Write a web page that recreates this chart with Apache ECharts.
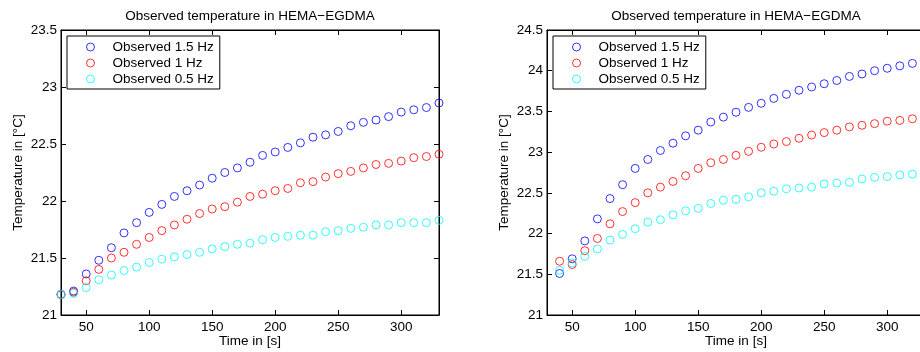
<!DOCTYPE html>
<html><head><meta charset="utf-8">
<script src="https://cdn.jsdelivr.net/npm/echarts@6/dist/echarts.min.js"></script>
<style>html,body{margin:0;padding:0;background:#fff}#c{width:920px;height:352px}</style>
</head><body><div id="c"></div>
<script>
var titleText = 'Observed temperature in HEMA\u2212EGDMA';
var xName = 'Time in [s]';
var yName = 'Temperature in [\u00B0C]';
var seriesNames = ['Observed 1.5 Hz', 'Observed 1 Hz', 'Observed 0.5 Hz'];
var xTicks = [50, 100, 150, 200, 250, 300];

var timeL = [30,40,50,60,70,80,90,100,110,120,130,140,150,160,170,180,190,200,210,220,230,240,250,260,270,280,290,300,310,320,330];
var blueL = [21.18,21.21,21.36,21.48,21.59,21.72,21.81,21.90,21.97,22.04,22.09,22.14,22.20,22.25,22.29,22.34,22.40,22.43,22.47,22.51,22.56,22.58,22.61,22.66,22.69,22.71,22.74,22.78,22.80,22.82,22.86];
var redL  = [21.18,21.20,21.30,21.40,21.50,21.55,21.62,21.68,21.74,21.79,21.84,21.89,21.93,21.95,21.99,22.04,22.06,22.09,22.11,22.16,22.17,22.21,22.24,22.26,22.29,22.32,22.33,22.35,22.38,22.39,22.41];
var cyanL = [21.18,21.19,21.24,21.31,21.35,21.39,21.42,21.46,21.49,21.51,21.53,21.55,21.58,21.60,21.62,21.63,21.66,21.68,21.69,21.70,21.70,21.73,21.74,21.76,21.77,21.79,21.79,21.81,21.81,21.81,21.83];

var timeR = [40,50,60,70,80,90,100,110,120,130,140,150,160,170,180,190,200,210,220,230,240,250,260,270,280,290,300,310,320];
var blueR = [21.51,21.69,21.91,22.18,22.43,22.60,22.80,22.91,23.02,23.11,23.20,23.27,23.37,23.43,23.49,23.55,23.60,23.66,23.71,23.76,23.80,23.84,23.88,23.93,23.96,24.00,24.03,24.06,24.09];
var redR  = [21.66,21.62,21.79,21.94,22.12,22.27,22.38,22.50,22.57,22.64,22.71,22.80,22.87,22.91,22.96,23.01,23.06,23.10,23.13,23.17,23.21,23.24,23.27,23.31,23.33,23.35,23.38,23.39,23.41];
var cyanR = [21.55,21.64,21.72,21.81,21.92,21.99,22.06,22.14,22.17,22.23,22.28,22.31,22.37,22.41,22.42,22.45,22.50,22.52,22.55,22.56,22.57,22.61,22.62,22.63,22.67,22.69,22.70,22.72,22.73];

var colors = ['#0000ff', '#ff0000', '#00ffff'];
var FONT = 'Liberation Sans, Arial, Helvetica, sans-serif';
var FS = 13.5;

function zip(xs, ys) { return xs.map(function (x, i) { return [x, ys[i]]; }); }

var grids = [
  {left: 61, top: 30, width: 378, height: 285},
  {left: 547, top: 30, width: 378, height: 285}
];
var yRanges = [[21, 23.5], [21, 24.5]];

var option = {
  animation: false,
  backgroundColor: '#fff',
  textStyle: {fontFamily: FONT},
  title: grids.map(function (g) {
    return {text: titleText, left: g.left + g.width / 2, top: 9, textAlign: 'center', padding: 0,
      textStyle: {fontFamily: FONT, fontSize: 13.5, fontWeight: 'normal', color: '#000'}};
  }),
  legend: grids.map(function (g, gi) {
    return {
      data: seriesNames.map(function (n) { return {name: n, icon: 'circle'}; }),
      orient: 'vertical', left: g.left + 6, top: 36,
      padding: [3, 6, 2, 19], itemGap: 0, itemWidth: 34, itemHeight: 8,
      borderColor: '#000', borderWidth: 1, backgroundColor: '#fff',
      itemStyle: {borderWidth: 1, color: 'rgba(0,0,0,0)'},
      textStyle: {fontFamily: FONT, fontSize: FS, color: '#000', lineHeight: 16, padding: [0,0,0,0]},
      selectedMode: false
    };
  }),
  grid: grids.map(function (g) {
    return {left: g.left, top: g.top, width: g.width, height: g.height, show: true,
      borderColor: '#000', borderWidth: 1, backgroundColor: 'transparent',
      outerBoundsMode: 'none', containLabel: false};
  }),
  xAxis: [],
  yAxis: [],
  series: []
};

grids.forEach(function (g, gi) {
  ['bottom', 'top'].forEach(function (pos) {
    option.xAxis.push({
      type: 'value', gridIndex: gi, position: pos, min: 30, max: 330,
      name: pos === 'bottom' ? xName : '', nameLocation: 'middle', nameGap: 19, nameMoveOverlap: false,
      nameTextStyle: {fontFamily: FONT, fontSize: FS, color: '#000', verticalAlign: 'top'},
      axisLine: {show: true, onZero: false, lineStyle: {color: '#000', width: 1}},
      axisTick: {show: true, inside: true, length: 5, customValues: xTicks, lineStyle: {color: '#000'}},
      axisLabel: {show: pos === 'bottom', customValues: xTicks, margin: 5, color: '#000', fontFamily: FONT, fontSize: FS},
      splitLine: {show: false}
    });
  });
  ['left', 'right'].forEach(function (pos) {
    option.yAxis.push({
      type: 'value', gridIndex: gi, position: pos, min: yRanges[gi][0], max: yRanges[gi][1], interval: 0.5,
      name: pos === 'left' ? yName : '', nameLocation: 'middle', nameGap: 36, nameRotate: 90, nameMoveOverlap: false,
      nameTextStyle: {fontFamily: FONT, fontSize: FS, color: '#000'},
      axisLine: {show: true, onZero: false, lineStyle: {color: '#000', width: 1}},
      axisTick: {show: true, inside: true, length: 5, lineStyle: {color: '#000'}},
      axisLabel: {show: pos === 'left', margin: 4, color: '#000', fontFamily: FONT, fontSize: FS,
        formatter: function (v) { return String(Math.round(v * 10) / 10); }},
      splitLine: {show: false}
    });
  });
});

var dataSets = [[zip(timeL, blueL), zip(timeL, redL), zip(timeL, cyanL)],
                [zip(timeR, blueR), zip(timeR, redR), zip(timeR, cyanR)]];
dataSets.forEach(function (sets, gi) {
  sets.forEach(function (d, si) {
    option.series.push({
      type: 'scatter', name: seriesNames[si], xAxisIndex: gi * 2, yAxisIndex: gi * 2,
      data: d, symbol: 'circle', symbolSize: 8,
      itemStyle: {color: 'rgba(0,0,0,0)', borderColor: colors[si], borderWidth: 1},
      emphasis: {disabled: true}
    });
  });
});

var chart = echarts.init(document.getElementById('c'), null, {renderer: 'canvas'});
chart.setOption(option);
</script>
</body></html>
